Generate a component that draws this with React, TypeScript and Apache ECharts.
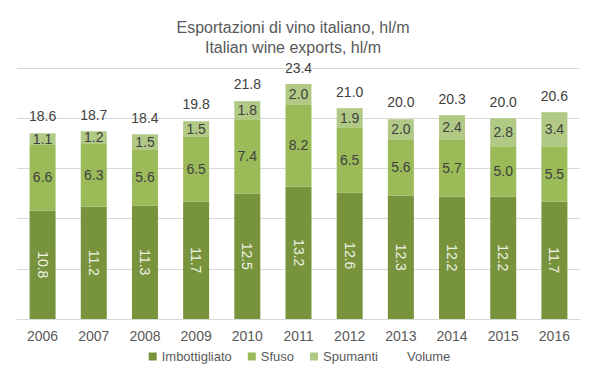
import React, { useEffect, useRef } from "react";
import * as echarts from "echarts";

const years = ["2006", "2007", "2008", "2009", "2010", "2011", "2012", "2013", "2014", "2015", "2016"];
const imbottigliato = [10.8, 11.2, 11.3, 11.7, 12.5, 13.2, 12.6, 12.3, 12.2, 12.2, 11.7];
const sfuso = [6.6, 6.3, 5.6, 6.5, 7.4, 8.2, 6.5, 5.6, 5.7, 5.0, 5.5];
const spumanti = [1.1, 1.2, 1.5, 1.5, 1.8, 2.0, 1.9, 2.0, 2.4, 2.8, 3.4];
const volume = [18.6, 18.7, 18.4, 19.8, 21.8, 23.4, 21.0, 20.0, 20.3, 20.0, 20.6];

const FONT = "'Liberation Sans', Arial, sans-serif";

export default function App() {
  const ref = useRef<HTMLDivElement>(null);
  useEffect(() => {
    if (!ref.current) return;
    const chart = echarts.init(ref.current, undefined, { renderer: "svg" });
    const fmt = (p: any) => Number(p.value).toFixed(1);
    const segLabel = {
      show: true,
      position: "inside",
      formatter: fmt,
      color: "#404040",
      fontSize: 14,
      fontFamily: FONT,
    };
    chart.setOption({
      animation: false,
      textStyle: { fontFamily: FONT },
      title: {
        text: "Esportazioni di vino italiano, hl/m\nItalian wine exports, hl/m",
        left: 288,
        textAlign: "center",
        top: 12,
        textStyle: { fontSize: 16, fontWeight: "normal", color: "#595959", lineHeight: 20, fontFamily: FONT },
      },
      legend: {
        bottom: 10,
        left: "center",
        itemWidth: 8,
        itemHeight: 8,
        itemGap: 16,
        textStyle: { fontSize: 13, color: "#595959", fontFamily: FONT },
        data: [
          { name: "Imbottigliato", icon: "rect" },
          { name: "Sfuso", icon: "rect" },
          { name: "Spumanti", icon: "rect" },
          { name: "Volume", icon: "rect", itemStyle: { color: "rgba(0,0,0,0)" } },
        ],
      },
      grid: { left: 17, right: 19, top: 68, bottom: 59 },
      xAxis: {
        type: "category",
        data: years,
        axisLine: { lineStyle: { color: "#D9D9D9" } },
        axisTick: { show: false },
        axisLabel: { fontSize: 14, color: "#595959", margin: 10, fontFamily: FONT },
      },
      yAxis: {
        type: "value",
        min: 0,
        max: 25,
        interval: 5,
        axisLabel: { show: false },
        axisLine: { show: false },
        axisTick: { show: false },
        splitLine: { lineStyle: { color: "#D9D9D9" } },
      },
      series: [
        {
          name: "Imbottigliato",
          type: "bar",
          stack: "tot",
          barWidth: 26,
          data: imbottigliato,
          itemStyle: { color: "#77933C" },
          label: { ...segLabel, rotate: -90, color: "#EEF2E4" },
        },
        {
          name: "Sfuso",
          type: "bar",
          stack: "tot",
          barWidth: 26,
          data: sfuso,
          itemStyle: { color: "#9BBB59" },
          label: segLabel,
        },
        {
          name: "Spumanti",
          type: "bar",
          stack: "tot",
          barWidth: 26,
          data: spumanti,
          itemStyle: { color: "#B0C985" },
          label: segLabel,
        },
        {
          name: "Volume",
          type: "bar",
          barWidth: 26,
          barGap: "-100%",
          data: volume,
          itemStyle: { color: "rgba(0,0,0,0)" },
          label: {
            show: true,
            position: "top",
            distance: 9,
            formatter: fmt,
            color: "#404040",
            fontSize: 14,
            fontFamily: FONT,
          },
        },
      ],
    });
    return () => chart.dispose();
  }, []);
  return <div ref={ref} style={{ width: 599, height: 378, position: "absolute", left: 0, top: 0 }} />;
}
